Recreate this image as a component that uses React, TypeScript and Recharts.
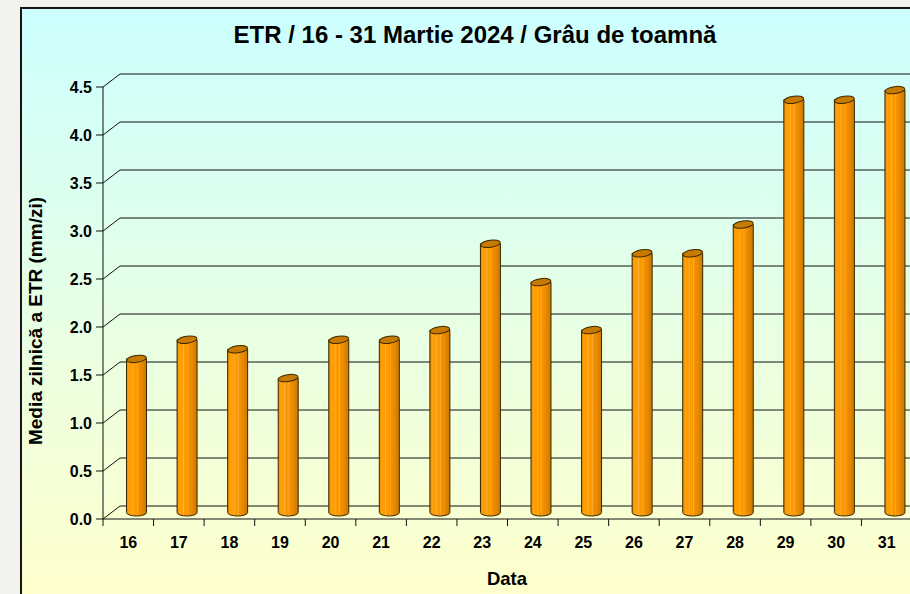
import React from 'react'
import { BarChart, Bar, XAxis, YAxis, CartesianGrid } from 'recharts'

const days = ['16', '17', '18', '19', '20', '21', '22', '23', '24', '25', '26', '27', '28', '29', '30', '31']
const etr = [1.6, 1.8, 1.7, 1.4, 1.8, 1.8, 1.9, 2.8, 2.4, 1.9, 2.7, 2.7, 3.0, 4.3, 4.3, 4.4]
const yTicks = [0, 0.5, 1, 1.5, 2, 2.5, 3, 3.5, 4, 4.5]

const data = days.map((d, i) => ({ day: d, etr: etr[i] }))

const FONT = '"Liberation Sans", Arial, sans-serif'
const W = 930
const H = 594
const M = { top: 87, right: 18, bottom: 15, left: 43 }
const BAND = (W - M.left - 60 - M.right) / days.length
// depth of the 3d floor (back wall offset)
const DX = 17
const DY = 13

function GridLine(props: any) {
  const { x1, x2, y1 } = props
  return (
    <g key={props.key}>
      <line x1={x1} y1={y1} x2={x1 + DX} y2={y1 - DY} stroke="#111" strokeWidth={1} />
      <line x1={x1 + DX} y1={y1 - DY} x2={x2 + DX} y2={y1 - DY} stroke="#111" strokeWidth={1} />
    </g>
  )
}

function DayTick(props: any) {
  const { x, y, payload } = props
  const bx = x - BAND / 2
  return (
    <g>
      <line x1={bx} y1={y - 8} x2={bx} y2={y - 1} stroke="#111" strokeWidth={1} />
      <text x={x} y={y + 21} textAnchor="middle" fontFamily={FONT} fontWeight="bold" fontSize={16} fill="#000">
        {payload.value}
      </text>
    </g>
  )
}

function Cylinder(props: any) {
  const { x, y, width, height } = props
  if (width == null || height == null) return null
  const cx = x + width / 2 + DX / 2
  const top = y - DY / 2
  const bot = y + height - DY / 2
  const rx = width / 2
  const ry = 3.5
  const l = cx - rx
  const r = cx + rx
  return (
    <g>
      <path
        d={`M${l},${top} L${l},${bot} A${rx},${ry} 0 0 0 ${r},${bot} L${r},${top} Z`}
        fill="url(#cylBody)"
        stroke="#3a2800"
        strokeWidth={1}
      />
      <ellipse cx={cx} cy={top} rx={rx} ry={ry} fill="#c77900" stroke="#3a2800" strokeWidth={1} transform={`rotate(-8 ${cx} ${top})`} />
    </g>
  )
}

export default function App() {
  return (
    <div style={{ position: 'absolute', left: 0, top: 0, width: 910, height: 594, overflow: 'hidden', background: '#f3f2ef', fontFamily: FONT }}>
      <svg width={0} height={0} style={{ position: 'absolute' }}>
        <defs>
          <linearGradient id="cylBody" x1="0" y1="0" x2="1" y2="0">
            <stop offset="0%" stopColor="#e68a00" />
            <stop offset="12%" stopColor="#ff9f0a" />
            <stop offset="28%" stopColor="#ff9c00" />
            <stop offset="32%" stopColor="#ffb240" />
            <stop offset="36%" stopColor="#ff9c00" />
            <stop offset="50%" stopColor="#fa9800" />
            <stop offset="54%" stopColor="#ffaa33" />
            <stop offset="58%" stopColor="#f59300" />
            <stop offset="75%" stopColor="#e88a00" />
            <stop offset="100%" stopColor="#c97700" />
          </linearGradient>
        </defs>
      </svg>
      <div style={{ position: 'absolute', left: 20, top: 7, width: 920, height: 600, boxSizing: 'border-box', borderLeft: '2px solid #151515', borderTop: '2px solid #151515', background: 'linear-gradient(to bottom, #ccffff 0%, #ffffcc 98%)' }} />
      <div style={{ position: 'absolute', left: 0, width: 950, top: 22, textAlign: 'center', fontSize: 24, lineHeight: '26px', fontWeight: 'bold', color: '#000' }}>
        ETR / 16 - 31 Martie 2024 / Grâu de toamnă
      </div>
      <div style={{ position: 'absolute', left: 36 - 200, top: 321 - 12, width: 400, textAlign: 'center', fontSize: 19, lineHeight: '24px', fontWeight: 'bold', color: '#000', transform: 'rotate(-90deg)' }}>
        Media zilnică a ETR (mm/zi)
      </div>
      <div style={{ position: 'absolute', left: 407, top: 567, width: 200, textAlign: 'center', fontSize: 18.5, lineHeight: '24px', fontWeight: 'bold', color: '#000' }}>
        Data
      </div>
      <div style={{ position: 'absolute', left: 0, top: 0 }}>
        <BarChart width={W} height={H} data={data} margin={M} barSize={20}>
          <CartesianGrid vertical={false} horizontal={(p: any) => <GridLine {...p} />} />
          <XAxis
            dataKey="day"
            interval={0}
            height={60}
            axisLine={{ stroke: '#111', strokeWidth: 1 }}
            tickLine={false}
            tickSize={8}
            tickMargin={0}
            tick={<DayTick />}
          />
          <YAxis
            width={60}
            domain={[0, 4.5]}
            ticks={yTicks}
            interval={0}
            tickFormatter={(v: number) => v.toFixed(1)}
            axisLine={{ stroke: '#111', strokeWidth: 1 }}
            tickLine={{ stroke: '#111', strokeWidth: 1 }}
            tickSize={7}
            tickMargin={4}
            tick={{ fontFamily: FONT, fontWeight: 'bold', fontSize: 16, fill: '#000' }}
          />
          <Bar dataKey="etr" shape={<Cylinder />} isAnimationActive={false} />
        </BarChart>
      </div>
    </div>
  )
}
